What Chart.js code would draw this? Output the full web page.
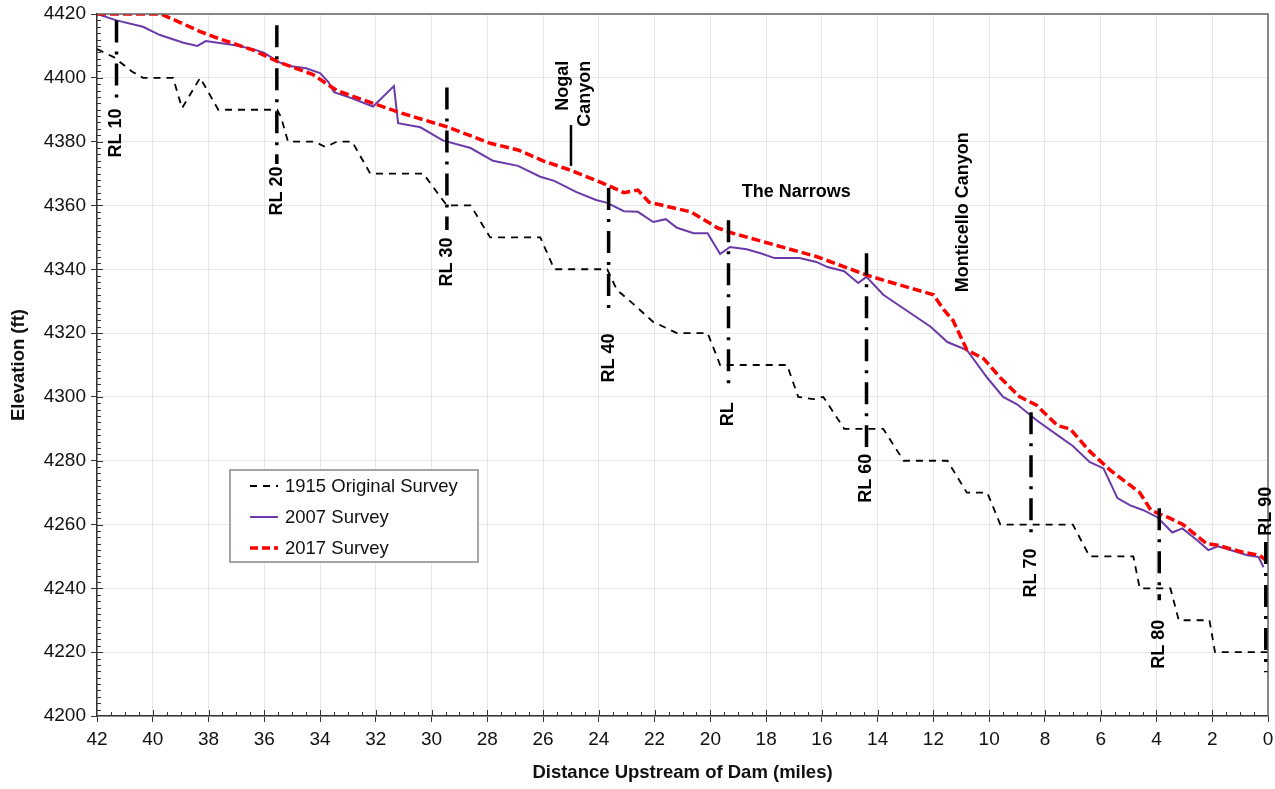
<!DOCTYPE html>
<html>
<head>
<meta charset="utf-8">
<script src="https://cdn.jsdelivr.net/npm/chart.js@4.4.1/dist/chart.umd.min.js"></script>
<style>
  html, body { margin: 0; padding: 0; background: #fff; }
  canvas { display: block; }
</style>
</head>
<body>
<canvas id="myChart" width="1275" height="789"></canvas>
<script>
// 1915 original survey (step profile)
var miles1915 = [42, 41.4, 40.75, 40.35, 39.27, 38.95, 38.3, 37.65, 35.54, 35.4, 35.15, 34.2, 33.8, 33.4, 32.85, 32.2, 30.3, 29.6, 29.45, 28.6, 27.9, 26.1, 25.6, 23.7, 23.35, 22.8, 22.05, 21.2, 20.1, 19.65, 17.25, 16.85, 16.3, 15.95, 15.2, 13.8, 13.07, 11.5, 10.8, 10.07, 9.6, 7.0, 6.4, 4.83, 4.6, 3.5, 3.2, 2.1, 1.9, 0];
var elev1915 = [4409, 4406.5, 4402, 4400, 4400, 4390.5, 4400, 4390, 4390, 4387.7, 4380, 4380, 4378.3, 4380, 4380, 4370, 4370, 4361.7, 4360, 4360, 4350, 4350, 4340, 4340, 4333.5, 4329.4, 4323.5, 4320, 4320, 4310, 4310, 4300, 4299.3, 4300, 4290, 4290, 4280, 4280, 4270, 4270, 4260, 4260, 4250, 4250, 4240, 4240, 4230, 4230, 4220, 4220];

// 2007 survey
var miles2007 = [42, 41.3, 40.35, 39.74, 38.9, 38.4, 38.1, 37.1, 36.4, 36.0, 35.5, 35.1, 34.5, 34.0, 33.7, 33.5, 32.9, 32.1, 31.35, 31.2, 30.4, 29.6, 28.6, 27.8, 26.9, 26.1, 25.6, 24.8, 24.1, 23.7, 23.1, 22.6, 22.05, 21.6, 21.2, 20.6, 20.1, 19.65, 19.3, 18.7, 18.2, 17.7, 16.8, 16.2, 15.8, 15.2, 14.7, 14.4, 13.8, 12.83, 12.1, 11.5, 10.8, 10.07, 9.5, 9.0, 8.3, 7.45, 7.0, 6.4, 5.9, 5.4, 4.94, 4.47, 3.97, 3.43, 3.07, 2.53, 2.14, 1.8, 1.35, 0.74, 0.34, 0.16];
var elev2007 = [4420, 4418, 4416, 4413.4, 4411, 4410, 4411.5, 4410.3, 4409, 4407.8, 4405, 4403.7, 4403, 4401.5, 4398.7, 4395.5, 4393.7, 4391, 4397.4, 4385.8, 4384.5, 4380.4, 4378, 4374, 4372.4, 4369, 4367.7, 4364.2, 4361.7, 4360.8, 4358.2, 4358, 4354.8, 4355.7, 4353, 4351.3, 4351.3, 4344.8, 4347, 4346.3, 4345, 4343.5, 4343.5, 4342.3, 4340.7, 4339.4, 4335.7, 4337.6, 4332, 4326.3, 4322, 4317.2, 4314.7, 4306, 4300, 4297.7, 4292.7, 4287.4, 4284.6, 4279.6, 4277.6, 4268.3, 4266, 4264.5, 4262.3, 4257.5, 4258.8, 4255, 4252, 4253.2, 4252, 4250.4, 4249.8, 4246.6];

// 2017 survey
var miles2017 = [42, 39.7, 38.3, 37.8, 36.4, 35.5, 34.25, 33.4, 32.1, 31.1, 29.4, 27.9, 26.9, 26.0, 25.0, 23.7, 23.1, 22.6, 22.2, 20.7, 19.75, 19.2, 16.2, 14.4, 13.8, 12.0, 11.6, 11.3, 10.8, 10.2, 9.6, 8.9, 8.3, 7.55, 7.1, 6.4, 5.65, 5.05, 4.6, 4.2, 3.6, 3.05, 2.2, 1.8, 0.9, 0.3, 0.1];
var elev2017 = [4420, 4420, 4414.5, 4412.8, 4408.7, 4405, 4401, 4396, 4392, 4389, 4384.5, 4379.5, 4377.4, 4374, 4371, 4366.4, 4364, 4364.8, 4361, 4358, 4353, 4351.3, 4344, 4338.2, 4336.6, 4332, 4327, 4324, 4314.7, 4312, 4306, 4300, 4297.4, 4291, 4290, 4283, 4277, 4273, 4270, 4264.5, 4262.3, 4260, 4254, 4253.5, 4251.3, 4250.4, 4249];

// range lines (RL) annotations
var rlNames  = ['RL 10', 'RL 20', 'RL 30', 'RL 40', 'RL', 'RL 60', 'RL 70', 'RL 80', 'RL 90'];
var rlMiles  = [41.3, 35.55, 29.45, 23.65, 19.35, 14.4, 8.5, 3.9, 0.08];
var rlTop    = [4418, 4416.5, 4397, 4365.5, 4355.4, 4345, 4295.2, 4265.1, 4254.5];
var rlBottom = [4393, 4373, 4352.3, 4325.3, 4303.7, 4284.3, 4255, 4236.3, 4213.7];
var rlLabelY = [4382.7, 4364.5, 4342.3, 4312.2, 4294.6, 4274.5, 4244.8, 4222.5, 4264.2];

var xTicks = { min: 0, max: 42, step: 2 };
var yTicks = { min: 4200, max: 4420, step: 20 };

var FONT = "'Liberation Sans', Arial, Helvetica, sans-serif";

function toPoints(xs, ys) {
  return xs.map(function (x, i) { return { x: x, y: ys[i] }; });
}

function vText(c, txt, x, y) {
  c.save();
  c.translate(x, y);
  c.rotate(-Math.PI / 2);
  c.textAlign = 'center';
  c.textBaseline = 'middle';
  c.fillText(txt, 0, 0);
  c.restore();
}

var overlay = {
  id: 'overlay',
  beforeDraw: function (chart) {
    var c = chart.ctx;
    c.save();
    c.fillStyle = '#fff';
    c.fillRect(0, 0, chart.width, chart.height);
    c.restore();
  },
  afterDraw: function (chart) {
    var c = chart.ctx, xs = chart.scales.x, ys = chart.scales.y, a = chart.chartArea;
    var i, p;
    c.save();

    // top and right frame
    c.strokeStyle = '#666';
    c.lineWidth = 1.5;
    c.beginPath();
    c.moveTo(a.left, a.top);
    c.lineTo(a.right, a.top);
    c.lineTo(a.right, a.bottom);
    c.stroke();

    // minor ticks
    c.strokeStyle = '#333';
    c.lineWidth = 1;
    for (var v = yTicks.min + 2; v < yTicks.max; v += 2) {
      p = Math.round(ys.getPixelForValue(v)) + 0.5;
      c.beginPath();
      c.moveTo(a.left, p);
      c.lineTo(a.left + (v % 20 === 0 ? 6 : 4), p);
      c.stroke();
    }
    for (var m = 0.5; m < 42; m += 0.5) {
      p = Math.round(xs.getPixelForValue(m)) + 0.5;
      c.beginPath();
      c.moveTo(p, a.bottom);
      c.lineTo(p, a.bottom - (m % 2 === 0 ? 6 : 4));
      c.stroke();
    }

    // range lines
    c.strokeStyle = '#000';
    c.lineWidth = 3.5;
    c.setLineDash([22, 9, 3, 9]);
    for (i = 0; i < rlMiles.length; i++) {
      var px = xs.getPixelForValue(rlMiles[i]);
      c.beginPath();
      c.moveTo(px, ys.getPixelForValue(rlTop[i]));
      c.lineTo(px, ys.getPixelForValue(rlBottom[i]));
      c.stroke();
    }
    c.setLineDash([]);

    c.fillStyle = '#000';
    c.font = 'bold 18px ' + FONT;
    for (i = 0; i < rlMiles.length; i++) {
      vText(c, rlNames[i], xs.getPixelForValue(rlMiles[i]), ys.getPixelForValue(rlLabelY[i]));
    }

    // Nogal Canyon
    c.lineWidth = 2.5;
    c.beginPath();
    c.moveTo(xs.getPixelForValue(25), ys.getPixelForValue(4385.2));
    c.lineTo(xs.getPixelForValue(25), ys.getPixelForValue(4372.4));
    c.stroke();
    vText(c, 'Nogal', xs.getPixelForValue(25.28), ys.getPixelForValue(4397.5));
    vText(c, 'Canyon', xs.getPixelForValue(24.5), ys.getPixelForValue(4395));

    // Monticello Canyon
    vText(c, 'Monticello Canyon', xs.getPixelForValue(10.93), ys.getPixelForValue(4357.9));

    // The Narrows
    c.textAlign = 'center';
    c.textBaseline = 'middle';
    c.fillText('The Narrows', xs.getPixelForValue(16.92), ys.getPixelForValue(4364.3));

    // legend box
    var lx = 230, ly = 470, lw = 248, lh = 92;
    c.fillStyle = '#fff';
    c.fillRect(lx, ly, lw, lh);
    c.strokeStyle = '#888';
    c.lineWidth = 1.5;
    c.strokeRect(lx, ly, lw, lh);
    var items = [
      { t: '1915 Original Survey', col: '#000', w: 2, dash: [7, 6] },
      { t: '2007 Survey', col: '#6a3aa8', w: 2, dash: [] },
      { t: '2017 Survey', col: '#ff0000', w: 3.5, dash: [8, 4] }
    ];
    c.font = '18.5px ' + FONT;
    c.textAlign = 'left';
    for (i = 0; i < items.length; i++) {
      var yy = ly + 16 + i * 31;
      c.strokeStyle = items[i].col;
      c.lineWidth = items[i].w;
      c.setLineDash(items[i].dash);
      c.beginPath();
      c.moveTo(lx + 20, yy);
      c.lineTo(lx + 48, yy);
      c.stroke();
      c.setLineDash([]);
      c.fillStyle = '#111';
      c.fillText(items[i].t, lx + 55, yy + 1);
    }
    c.restore();
  }
};

var ctx = document.getElementById('myChart');
var myChart = new Chart(ctx, {
  type: 'line',
  data: {
    datasets: [{
      label: '2017 Survey',
      data: toPoints(miles2017, elev2017),
      borderColor: '#ff0000',
      borderWidth: 3.5,
      borderDash: [9, 4],
      pointRadius: 0,
      tension: 0,
      fill: false
    }, {
      label: '2007 Survey',
      data: toPoints(miles2007, elev2007),
      borderColor: '#6a3aa8',
      borderWidth: 2,
      pointRadius: 0,
      tension: 0,
      fill: false
    }, {
      label: '1915 Original Survey',
      data: toPoints(miles1915, elev1915),
      borderColor: '#000',
      borderWidth: 1.8,
      borderDash: [7, 6],
      pointRadius: 0,
      tension: 0,
      fill: false
    }]
  },
  options: {
    responsive: false,
    devicePixelRatio: 1,
    animation: false,
    layout: { padding: { left: 0, right: 7, top: 14, bottom: 0 } },
    plugins: {
      legend: { display: false },
      tooltip: { enabled: false }
    },
    scales: {
      x: {
        type: 'linear',
        reverse: true,
        min: xTicks.min,
        max: xTicks.max,
        ticks: { stepSize: xTicks.step, autoSkip: false, maxRotation: 0, padding: 6, color: '#111', font: { family: FONT, size: 19 } },
        grid: { color: '#e6e6e6', tickColor: '#333', tickLength: 6 },
        border: { color: '#333', width: 1.5 },
        title: { display: true, text: 'Distance Upstream of Dam (miles)', color: '#111', font: { family: FONT, size: 18.5, weight: 'bold' }, padding: { top: 0, bottom: 5 } },
        afterFit: function (s) { s.height = 73; s.paddingLeft = 0; s.paddingRight = 0; }
      },
      y: {
        min: yTicks.min,
        max: yTicks.max,
        ticks: {
          stepSize: yTicks.step, padding: 5, color: '#111', font: { family: FONT, size: 19 },
          callback: function (v) { return String(v); }
        },
        grid: { color: '#e6e6e6', tickColor: '#333', tickLength: 6 },
        border: { color: '#333', width: 1.5 },
        title: { display: true, text: 'Elevation (ft)', color: '#111', font: { family: FONT, size: 18.5, weight: 'bold' }, padding: { top: 8, bottom: 0 } },
        afterFit: function (s) { s.width = 97; s.paddingTop = 0; s.paddingBottom = 0; }
      }
    }
  },
  plugins: [overlay]
});
</script>
</body>
</html>
